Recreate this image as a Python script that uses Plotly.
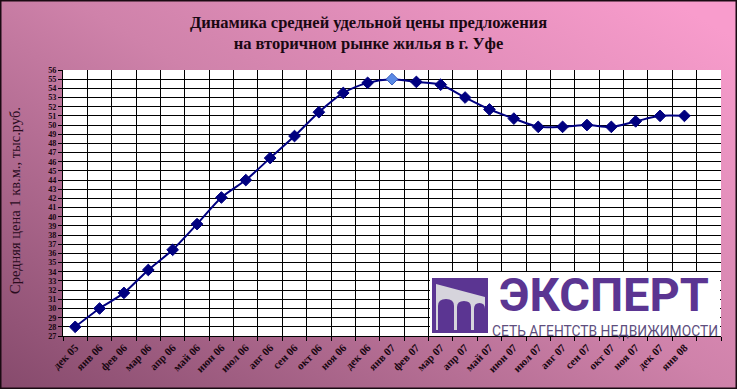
import base64
import plotly.graph_objects as go

# ---------------- data ----------------
months = ["дек 05", "янв 06", "фев 06", "мар 06", "апр 06", "май 06", "июн 06",
          "июл 06", "авг 06", "сен 06", "окт 06", "ноя 06", "дек 06", "янв 07",
          "фев 07", "мар 07", "апр 07", "май 07", "июн 07", "июл 07", "авг 07",
          "сен 07", "окт 07", "ноя 07", "дек 07", "янв 08"]
prices = [28.0, 30.0, 31.7, 34.2, 36.4, 39.2, 42.1, 44.0, 46.4, 48.8, 51.4, 53.5,
          54.6, 55.0, 54.7, 54.4, 53.0, 51.7, 50.7, 49.8, 49.8, 50.0, 49.8, 50.4,
          51.0, 51.0]
extra_slot = [" "]
highlight_month = "янв 07"
y_ticks = list(range(27, 57))

title_text = "Динамика средней удельной цены предложения<br>на вторичном рынке жилья в г. Уфе"
y_title = "Средняя цена 1 кв.м., тыс.руб."
logo_big = "ЭКСПЕРТ"
logo_small = "СЕТЬ АГЕНТСТВ НЕДВИЖИМОСТИ"

# ---------------- geometry ----------------
W, H = 737, 389
ML, MR, MT, MB = 63, 16, 70, 53
PW, PH = W - ML - MR, H - MT - MB


def px(x):
    return (x - ML) / PW


def py(y):
    return (H - MB - y) / PH


def svg_uri(s):
    return "data:image/svg+xml;base64," + base64.b64encode(s.encode("utf-8")).decode()


bg_svg = (
    "<svg xmlns='http://www.w3.org/2000/svg' width='737' height='389' viewBox='0 0 737 389' "
    "preserveAspectRatio='none'><defs><linearGradient id='g' x1='1' y1='0.1' x2='0' y2='1'>"
    "<stop offset='0' stop-color='#f89ccc'/><stop offset='0.45' stop-color='#cf82aa'/>"
    "<stop offset='1' stop-color='#864a6c'/></linearGradient></defs>"
    "<rect x='0' y='0' width='737' height='389' fill='url(#g)'/>"
    "<rect x='0.75' y='0.75' width='735.5' height='387.5' fill='none' stroke='#1a0a12' stroke-width='1.5'/>"
    "</svg>"
)

logo_svg = (
    "<svg xmlns='http://www.w3.org/2000/svg' width='290' height='64' viewBox='0 0 290 64' "
    "preserveAspectRatio='none'>"
    "<rect x='0' y='0' width='290' height='64' fill='#ffffff'/>"
    "<rect x='2' y='6' width='56' height='55' fill='#5b3592'/>"
    "<polygon points='6,12 55,25 55,58 6,58' fill='#d6d4dc'/>"
    "<path d='M8,59 V34 Q8,27 16,27 Q24,27 24,34 V59 Z' fill='#5b3592'/>"
    "<path d='M27,59 V35 Q27,29 34,29 Q41,29 41,35 V59 Z' fill='#5b3592'/>"
    "<path d='M44,59 V37 Q44,31 49.5,31 Q55,31 55,37 V59 Z' fill='#5b3592'/>"
    "<rect x='2' y='58' width='56' height='3' fill='#5b3592'/>"
    "</svg>"
)

categories = months + extra_slot
marker_colors = ["#5a8ae6" if m == highlight_month else "#000080" for m in months]
marker_line_colors = ["#3a5fc0" if m == highlight_month else "#000080" for m in months]

serif = "Liberation Serif, Times New Roman, serif"

fig = go.Figure()
fig.add_trace(go.Scatter(
    x=months, y=prices, mode="lines+markers",
    line=dict(color="#000080", width=2, shape="spline", smoothing=0.8),
    marker=dict(symbol="diamond", size=9, color=marker_colors,
                line=dict(color=marker_line_colors, width=1)),
    showlegend=False, hoverinfo="x+y",
))

fig.update_layout(
    width=W, height=H, autosize=False,
    margin=dict(l=ML, r=MR, t=MT, b=MB, pad=0),
    paper_bgcolor="#c2739c",
    plot_bgcolor="rgba(0,0,0,0)",
    title=dict(text=title_text, x=0.5, xanchor="center", xref="container",
               y=1 - 28 / H, yanchor="middle", yref="container",
               font=dict(family=serif, size=16.5, color="#1a0812", weight="bold")),
    xaxis=dict(type="category", categoryorder="array", categoryarray=categories,
               range=[-0.5, len(categories) - 0.5], tickson="boundaries",
               showgrid=True, gridcolor="#000000", gridwidth=1,
               showline=True, linecolor="#000000", linewidth=1,
               ticks="outside", ticklen=4, tickcolor="#000000",
               tickangle=-45,
               tickfont=dict(family=serif, size=11, color="#1a0812", weight="bold"),
               zeroline=False, fixedrange=True),
    yaxis=dict(range=[27, 56], tickvals=y_ticks, ticktext=[str(v) for v in y_ticks],
               showgrid=True, gridcolor="#000000", gridwidth=1,
               showline=True, linecolor="#000000", linewidth=1,
               ticks="outside", ticklen=4, tickcolor="#000000",
               tickfont=dict(family=serif, size=8.2, color="#1a0812", weight="bold"),
               zeroline=False, fixedrange=True),
    images=[
        dict(source=svg_uri(bg_svg), xref="paper", yref="paper",
             x=px(0), y=py(0), sizex=W / PW, sizey=H / PH,
             xanchor="left", yanchor="top", sizing="stretch", layer="below"),
        dict(source=svg_uri(logo_svg), xref="paper", yref="paper",
             x=px(430), y=py(272), sizex=290 / PW, sizey=64 / PH,
             xanchor="left", yanchor="top", sizing="stretch", layer="above"),
    ],
    shapes=[
        dict(type="rect", xref="paper", yref="paper", x0=0, x1=1, y0=0, y1=1,
             fillcolor="#ffffff", line=dict(width=0), layer="below"),
    ],
    annotations=[
        dict(text=y_title, xref="paper", yref="paper", x=px(15), y=py(201),
             textangle=-90, showarrow=False, xanchor="center", yanchor="middle",
             font=dict(family=serif, size=14.5, color="#2a0c1e")),
        dict(text=logo_big, xref="paper", yref="paper", x=px(604), y=py(294),
             showarrow=False, xanchor="center", yanchor="middle",
             font=dict(family="Roboto, DejaVu Sans, sans-serif", size=47,
                       color="#5b3592", weight="bold")),
        dict(text=logo_small, xref="paper", yref="paper", x=px(605), y=py(331),
             showarrow=False, xanchor="center", yanchor="middle",
             font=dict(family="Roboto, DejaVu Sans, sans-serif", size=13.8,
                       color="#5e4e7e")),
    ],
)

fig.write_html("out.html")
